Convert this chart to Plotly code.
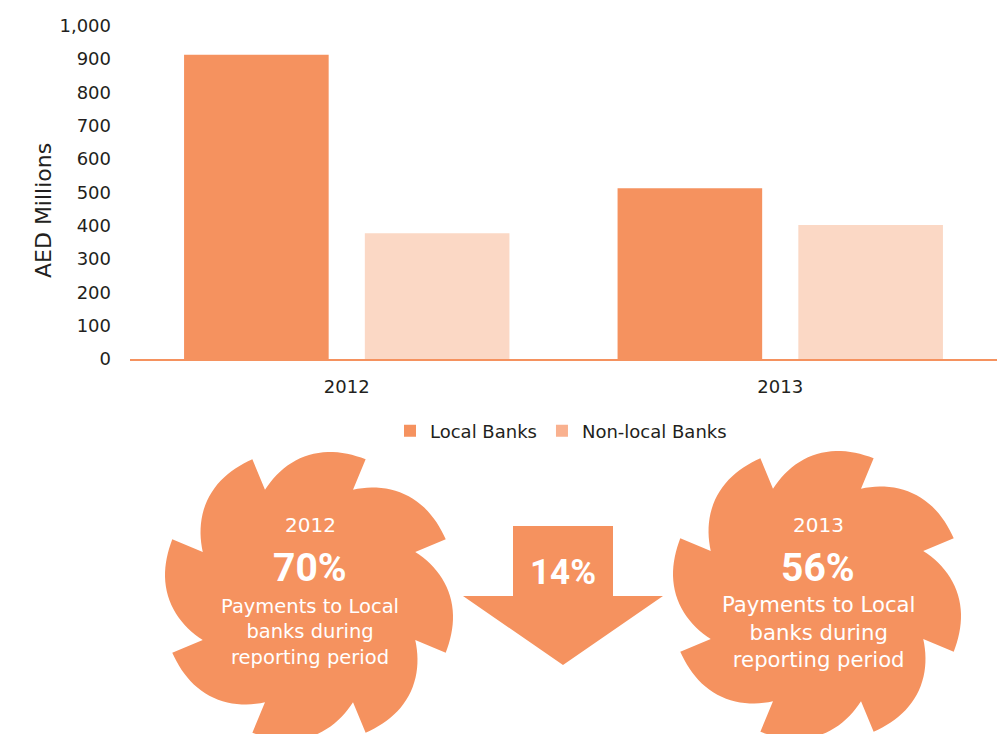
import math
import plotly.graph_objects as go

# ---------------- data ----------------
years = ["2012", "2013"]
local_banks = [913, 512]
nonlocal_banks = [377, 402]
y_tick_values = [0, 100, 200, 300, 400, 500, 600, 700, 800, 900, 1000]
y_tick_labels = ["0", "100", "200", "300", "400", "500", "600", "700", "800", "900", "1,000"]
y_title = "AED Millions"
local_share = ["70%", "56%"]
local_share_change = "14%"
caption_lines = ["Payments to Local", "banks during", "reporting period"]

# ---------------- style ----------------
W, H = 997, 734
ORANGE = "#F5925F"
LIGHT = "#FBD8C5"
LEGEND_LIGHT = "#F9B18F"
DARK = "#231F20"
FONT = "DejaVu Sans"
BOLD_FONT = "Roboto"


def to_paper(x, y):
    return x / W, 1 - y / H


def pinwheel_path(cx, cy, r_in=115, r_out=148, n=8, phase_deg=22.5, bulge=9.5, steps=24):
    pts = []
    step = 360.0 / n
    for k in range(n):
        a0 = phase_deg + k * step
        for i in range(steps + 1):
            t = i / steps
            a = math.radians(a0 + t * step)
            r = r_in + (r_out - r_in) * t + bulge * math.sin(math.pi * t)
            pts.append((cx + r * math.cos(a), cy + r * math.sin(a)))
        a = math.radians(a0 + step)
        pts.append((cx + r_in * math.cos(a), cy + r_in * math.sin(a)))
    parts = []
    for j, (x, y) in enumerate(pts):
        px_, py_ = to_paper(x, y)
        parts.append(("M" if j == 0 else "L") + f"{px_:.5f},{py_:.5f}")
    return " ".join(parts) + " Z"


def arrow_path(cx, top, shaft_half, head_y, head_half, tip_y):
    pts = [(cx - shaft_half, top), (cx + shaft_half, top), (cx + shaft_half, head_y),
           (cx + head_half, head_y), (cx, tip_y), (cx - head_half, head_y),
           (cx - shaft_half, head_y)]
    parts = []
    for j, (x, y) in enumerate(pts):
        px_, py_ = to_paper(x, y)
        parts.append(("M" if j == 0 else "L") + f"{px_:.5f},{py_:.5f}")
    return " ".join(parts) + " Z"


fig = go.Figure()
fig.add_bar(x=years, y=local_banks, name="Local Banks",
            marker=dict(color=ORANGE, line=dict(width=0)), hoverinfo="skip")
fig.add_bar(x=years, y=nonlocal_banks, name="Non-local Banks", showlegend=False,
            marker=dict(color=LIGHT, line=dict(width=0)), hoverinfo="skip")
# legend entry for non-local banks (legend swatch colour differs from bars in the original)
fig.add_scatter(x=[None], y=[None], mode="markers", name="Non-local Banks",
                marker=dict(symbol="square", size=12, color=LEGEND_LIGHT, line=dict(width=0)))

shapes = []
annotations = []

# y-axis title
tx, ty = to_paper(44, 211)
annotations.append(dict(x=tx, y=ty, xref="paper", yref="paper", text=y_title, showarrow=False,
                        textangle=-90, xanchor="center", yanchor="middle",
                        font=dict(family=FONT, size=22, color=DARK)))

centers = [(309, 596), (817, 595)]
body_sizes = [19.5, 21.2]
for (cx, cy), yr, share, bsize in zip(centers, years, local_share, body_sizes):
    shapes.append(dict(type="path", xref="paper", yref="paper", path=pinwheel_path(cx, cy),
                       fillcolor=ORANGE, line=dict(width=0), layer="above"))
    x0, y0 = to_paper(cx + 1, 525)
    annotations.append(dict(x=x0, y=y0, xref="paper", yref="paper", text=yr, showarrow=False,
                            xanchor="center", yanchor="middle",
                            font=dict(family=FONT, size=20, color="white")))
    x1, y1 = to_paper(cx + 1, 568)
    annotations.append(dict(x=x1, y=y1, xref="paper", yref="paper", text=f"<b>{share}</b>",
                            showarrow=False, xanchor="center", yanchor="middle",
                            font=dict(family=BOLD_FONT, size=39, color="white")))
    x2, y2 = to_paper(cx + 1, 631.5)
    annotations.append(dict(x=x2, y=y2, xref="paper", yref="paper", text="<br>".join(caption_lines),
                            showarrow=False, xanchor="center", yanchor="middle", align="center",
                            font=dict(family=FONT, size=bsize, color="white")))

shapes.append(dict(type="path", xref="paper", yref="paper",
                   path=arrow_path(563, 526, 50, 596, 100, 665),
                   fillcolor=ORANGE, line=dict(width=0), layer="above"))
xa, ya = to_paper(563, 572)
annotations.append(dict(x=xa, y=ya, xref="paper", yref="paper", text=f"<b>{local_share_change}</b>",
                        showarrow=False, xanchor="center", yanchor="middle",
                        font=dict(family=BOLD_FONT, size=35, color="white")))

lx, ly = to_paper(390, 431)

fig.update_layout(
    width=W, height=H,
    margin=dict(l=0, r=0, t=0, b=0),
    paper_bgcolor="white", plot_bgcolor="rgba(0,0,0,0)",
    bargap=0.166, bargroupgap=0.2,
    showlegend=True,
    legend=dict(orientation="h", x=lx, y=ly, xanchor="left", yanchor="middle",
                font=dict(family=FONT, size=18, color=DARK), bgcolor="rgba(0,0,0,0)",
                itemwidth=30, traceorder="normal"),
    xaxis=dict(domain=[130 / W, 1], type="category", showline=True, linecolor=ORANGE,
               linewidth=2, ticks="", showgrid=False, zeroline=False,
               tickfont=dict(family=FONT, size=18, color=DARK), ticklabelstandoff=10,
               fixedrange=True),
    yaxis=dict(domain=[1 - 359 / H, 1 - 25.7 / H], range=[0, 1000], tickmode="array",
               tickvals=y_tick_values, ticktext=y_tick_labels, showgrid=False,
               zeroline=False, showline=False, ticks="", automargin=False,
               tickfont=dict(family=FONT, size=18, color=DARK), ticklabelstandoff=18,
               fixedrange=True),
    shapes=shapes,
    annotations=annotations,
    font=dict(family=FONT, color=DARK),
)

fig.write_html("out.html", include_plotlyjs=True, config={"displayModeBar": False},
               post_script="document.body.style.margin='0';")
